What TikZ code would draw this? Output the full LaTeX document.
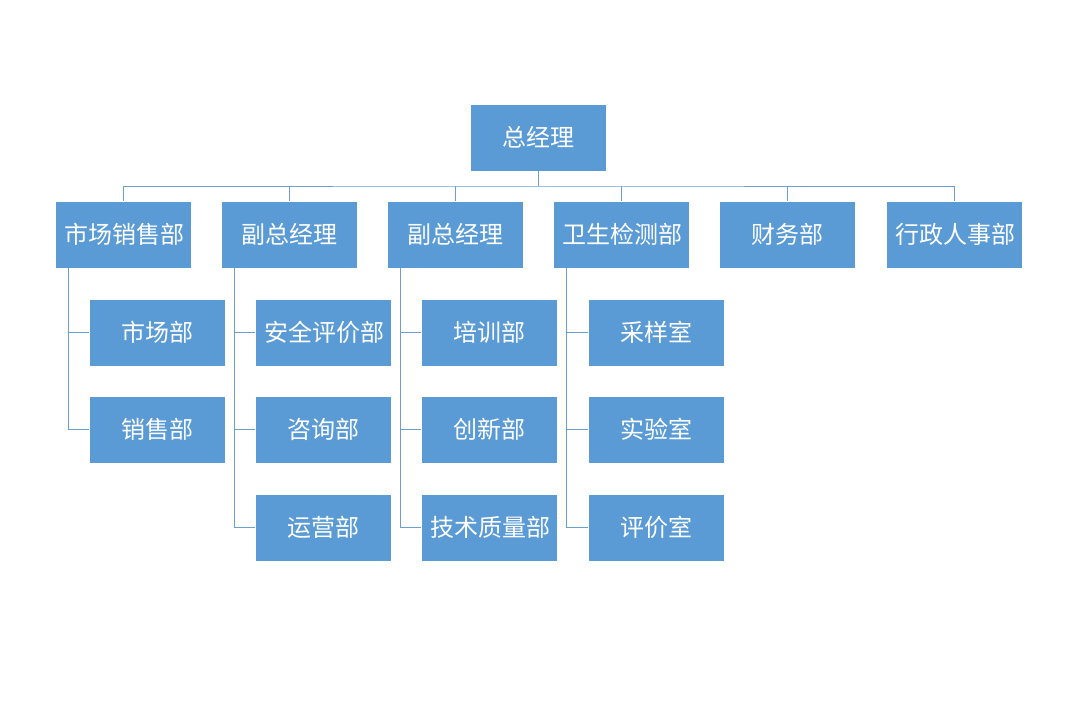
\documentclass[tikz,border=0pt]{standalone}
\usepackage{fontspec}
\newfontfamily\cjk{Noto Sans CJK SC}
\definecolor{boxblue}{HTML}{5B9BD5}
\definecolor{linkblue}{HTML}{6A9FD0}
\begin{document}
\begin{tikzpicture}[x=1pt, y=-1pt,
    unit/.style={fill=boxblue, draw=white, line width=0.8pt, minimum width=136pt, minimum height=67pt,
        text width=118pt, align=center, inner sep=0pt, text=white, font=\cjk\fontsize{24}{29}\selectfont},
    link/.style={draw=linkblue, line width=0.9pt}]
    \useasboundingbox (0,0) rectangle (1072,723);
    % top
    \node[unit] (gm) at (538.5,137.5){总经理};
    \coordinate (bus) at (538.5,186);
    % level one
    \node[unit] (mkt) at (123,234.5){市场销售部};
    \node[unit] (vpa) at (289,234.5){副总经理};
    \node[unit] (vpb) at (455.5,234.5){副总经理};
    \node[unit] (hyg) at (621.5,234.5){卫生检测部};
    \node[unit] (fin) at (787.5,234.5){财务部};
    \node[unit] (adm) at (954,234.5){行政人事部};
    % level two
    \node[unit] (mkta) at (157.5,332.5){市场部};
    \node[unit] (mktb) at (157.5,429.5){销售部};
    \node[unit] (vpaa) at (323.5,332.5){安全评价部};
    \node[unit] (vpab) at (323.5,429.5){咨询部};
    \node[unit] (vpac) at (323.5,527.5){运营部};
    \node[unit] (vpba) at (489.5,332.5){培训部};
    \node[unit] (vpbb) at (489.5,429.5){创新部};
    \node[unit] (vpbc) at (489.5,527.5){技术质量部};
    \node[unit] (hyga) at (656,332.5){采样室};
    \node[unit] (hygb) at (656,429.5){实验室};
    \node[unit] (hygc) at (656,527.5){评价室};

    % links
    \draw[link] (gm.south) -- (bus);
    \draw[link] (mkt.north) |- (bus) -| (adm.north);
    \foreach \n in {vpa,vpb,hyg,fin}
        \draw[link] (\n.north) -- (\n.north |- bus);
    \foreach \p/\c in {mkt/mkta,mkt/mktb,vpa/vpaa,vpa/vpab,vpa/vpac,vpb/vpba,vpb/vpbb,vpb/vpbc,hyg/hyga,hyg/hygb,hyg/hygc}
        \draw[link] ([xshift=13.5pt]\p.south west) |- (\c.west);
\end{tikzpicture}
\end{document}
